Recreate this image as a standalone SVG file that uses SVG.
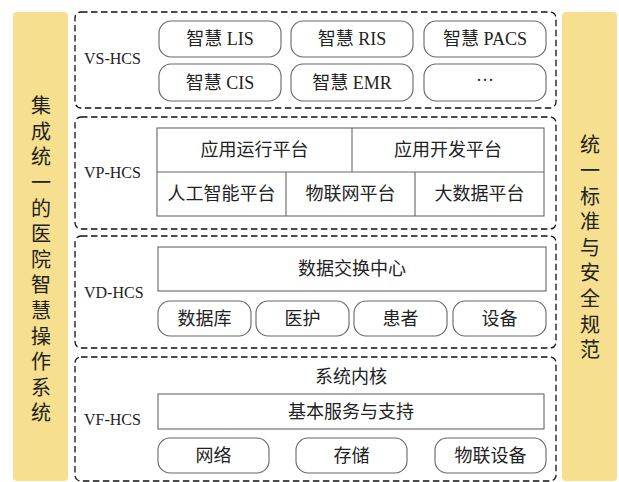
<svg xmlns="http://www.w3.org/2000/svg" width="619" height="482" viewBox="0 0 619 482">
<style>
.bar{fill:#F6DF8E;stroke:none}
.layer{fill:none;stroke:#111;stroke-width:1.3;stroke-dasharray:6.5 3.5}
.pill{fill:#fff;stroke:#666;stroke-width:1.1}
.box{fill:#fff;stroke:#666;stroke-width:1.1}
.t{font-family:"Liberation Serif","Noto Sans CJK SC",serif;font-size:18px;fill:#222;text-anchor:middle;dominant-baseline:central}
.lab{font-family:"Liberation Serif","Noto Sans CJK SC",serif;font-size:16px;fill:#222;dominant-baseline:central}
.v{font-family:"Noto Sans CJK SC",sans-serif;font-size:20px;fill:#222;text-anchor:middle;writing-mode:vertical-rl;letter-spacing:5.6px}
</style>
<rect width="619" height="482" fill="#fff"/>
<g id="left-bar">
<rect class="bar" x="13" y="12" width="55" height="469" rx="4"/>
<text class="v" x="41" y="262">集成统一的医院智慧操作系统</text>
</g>
<g id="right-bar">
<rect class="bar" x="562" y="12" width="55" height="469" rx="4"/>
<text class="v" x="590" y="250">统一标准与安全规范</text>
</g>
<g id="vs-hcs">
<rect class="layer" x="75" y="12" width="481" height="96" rx="6"/>
<text class="lab" x="84" y="58">VS-HCS</text>
<g id="lis"><rect class="pill" x="159" y="21" width="122" height="36" rx="12"/><text class="t" x="220" y="39">智慧 LIS</text></g>
<g id="ris"><rect class="pill" x="291" y="21" width="122" height="36" rx="12"/><text class="t" x="352" y="39">智慧 RIS</text></g>
<g id="pacs"><rect class="pill" x="424" y="21" width="122" height="36" rx="12"/><text class="t" x="485" y="39">智慧 PACS</text></g>
<g id="cis"><rect class="pill" x="159" y="64" width="122" height="37" rx="12"/><text class="t" x="220" y="82.5">智慧 CIS</text></g>
<g id="emr"><rect class="pill" x="291" y="64" width="122" height="37" rx="12"/><text class="t" x="352" y="82.5">智慧 EMR</text></g>
<g id="more"><rect class="pill" x="424" y="64" width="122" height="37" rx="12"/><text class="t" x="485" y="80">···</text></g>
</g>
<g id="vp-hcs">
<rect class="layer" x="75" y="117" width="481" height="112" rx="6"/>
<text class="lab" x="84" y="172">VP-HCS</text>
<rect class="box" x="157" y="128" width="387" height="88"/>
<g stroke="#666" stroke-width="1.1"><line x1="157" y1="172" x2="544" y2="172"/><line x1="352" y1="128" x2="352" y2="172"/><line x1="286" y1="172" x2="286" y2="216"/><line x1="415" y1="172" x2="415" y2="216"/></g>
<g id="app-run"><text class="t" x="254.5" y="150">应用运行平台</text></g>
<g id="app-dev"><text class="t" x="448" y="150">应用开发平台</text></g>
<g id="ai"><text class="t" x="221.5" y="194">人工智能平台</text></g>
<g id="iot"><text class="t" x="350.5" y="194">物联网平台</text></g>
<g id="bigdata"><text class="t" x="479.5" y="194">大数据平台</text></g>
</g>
<g id="vd-hcs">
<rect class="layer" x="75" y="236" width="481" height="112" rx="6"/>
<text class="lab" x="84" y="292">VD-HCS</text>
<g id="exchange"><rect class="box" x="158" y="247" width="388" height="44"/><text class="t" x="352" y="269">数据交换中心</text></g>
<g id="db"><rect class="pill" x="158" y="301" width="93" height="35" rx="12"/><text class="t" x="204.5" y="318.5">数据库</text></g>
<g id="care"><rect class="pill" x="256" y="301" width="93" height="35" rx="12"/><text class="t" x="302.5" y="318.5">医护</text></g>
<g id="patient"><rect class="pill" x="354" y="301" width="93" height="35" rx="12"/><text class="t" x="400.5" y="318.5">患者</text></g>
<g id="device"><rect class="pill" x="453" y="301" width="93" height="35" rx="12"/><text class="t" x="499.5" y="318.5">设备</text></g>
</g>
<g id="vf-hcs">
<rect class="layer" x="75" y="357" width="481" height="124" rx="6"/>
<text class="lab" x="84" y="419">VF-HCS</text>
<text class="t" x="351" y="377">系统内核</text>
<g id="basic"><rect class="box" x="158" y="394" width="386" height="35"/><text class="t" x="351" y="411.5">基本服务与支持</text></g>
<g id="net"><rect class="pill" x="158" y="438" width="111" height="35" rx="12"/><text class="t" x="213.5" y="455.5">网络</text></g>
<g id="storage"><rect class="pill" x="296" y="438" width="111" height="35" rx="12"/><text class="t" x="351.5" y="455.5">存储</text></g>
<g id="iotdev"><rect class="pill" x="435" y="438" width="111" height="35" rx="12"/><text class="t" x="490.5" y="455.5">物联设备</text></g>
</g>
<g id="connectors"/>
</svg>
